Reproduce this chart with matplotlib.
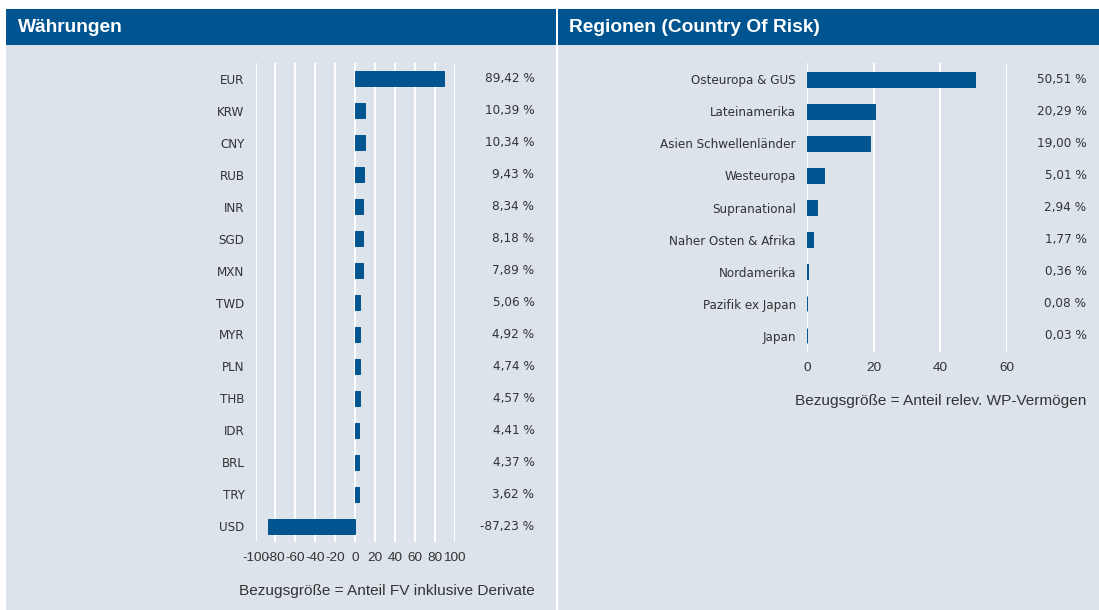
import matplotlib
matplotlib.use("Agg")
import matplotlib.pyplot as plt
from matplotlib import font_manager
from matplotlib.patches import Rectangle
import matplotlib.transforms as mtransforms

# ---------------- data ----------------
currencies = ["EUR", "KRW", "CNY", "RUB", "INR", "SGD", "MXN", "TWD", "MYR",
              "PLN", "THB", "IDR", "BRL", "TRY", "USD"]
currency_values = [89.42, 10.39, 10.34, 9.43, 8.34, 8.18, 7.89, 5.06, 4.92,
                   4.74, 4.57, 4.41, 4.37, 3.62, -87.23]
currency_ticks = [-100, -80, -60, -40, -20, 0, 20, 40, 60, 80, 100]

regions = ["Osteuropa & GUS", "Lateinamerika", "Asien Schwellenländer",
           "Westeuropa", "Supranational", "Naher Osten & Afrika",
           "Nordamerika", "Pazifik ex Japan", "Japan"]
region_values = [50.51, 20.29, 19.00, 5.01, 2.94, 1.77, 0.36, 0.08, 0.03]
region_ticks = [0, 20, 40, 60]

title_left = "Währungen"
title_right = "Regionen (Country Of Risk)"
note_left = "Bezugsgröße = Anteil FV inklusive Derivate"
note_right = "Bezugsgröße = Anteil relev. WP-Vermögen"

# ---------------- style ----------------
W, H = 1099, 610
BLUE = "#00548f"
PANEL = "#dce3eb"
TXT = "#333333"

REG = "Liberation Sans"
plt.rcParams["font.family"] = [REG, "DejaVu Sans"]

# look for a condensed face
cond_file = None
for f in font_manager.fontManager.ttflist:
    nm = f.name.lower()
    st = str(f.stretch).lower()
    if f.weight in (400, "normal", "regular") and f.style == "normal" and (
            "narrow" in nm or "condensed" in nm or st in ("condensed", "semi-condensed")):
        cond_file = f.fname
        break


def label_font(size):
    if cond_file is not None:
        return font_manager.FontProperties(fname=cond_file, size=size)
    return font_manager.FontProperties(family=[REG, "DejaVu Sans"], size=size * 0.92)


cat_font = label_font(9.5)
val_font = label_font(9.6)

fig = plt.figure(figsize=(W / 100, H / 100), dpi=100, facecolor="white")


def fx(px):
    return px / W


def fy(py):
    return 1 - py / H


# panels
for x0, x1, title in [(6, 556, title_left), (557.5, 1099, title_right)]:
    fig.patches.append(Rectangle((fx(x0), fy(610)), fx(x1 - x0), (610 - 45) / H,
                                 transform=fig.transFigure, facecolor=PANEL,
                                 edgecolor="none", zorder=-10))
    fig.patches.append(Rectangle((fx(x0), fy(45)), fx(x1 - x0), 36 / H,
                                 transform=fig.transFigure, facecolor=BLUE,
                                 edgecolor="none", zorder=-10))
    fig.text(fx(x0 + 11.5), fy(27.5), title, color="white", fontsize=13.8,
             fontweight="bold", va="center", ha="left", family=[REG, "DejaVu Sans"])


def make_axes(left_px, right_px, top_px, bottom_px):
    ax = fig.add_axes([fx(left_px), fy(bottom_px), fx(right_px - left_px),
                       (bottom_px - top_px) / H])
    ax.set_facecolor("none")
    for s in ax.spines.values():
        s.set_visible(False)
    ax.tick_params(axis="both", length=0)
    ax.grid(axis="x", color="white", linewidth=1.4)
    ax.grid(axis="y", visible=False)
    ax.set_axisbelow(True)
    return ax


def draw(ax, cats, vals, ticks, xlim, value_x_px, note, note_y_px):
    n = len(cats)
    y = list(range(n))
    ax.barh(y, vals, height=0.47, color=BLUE, edgecolor=BLUE, linewidth=0.7, zorder=3)
    ax.set_ylim(n - 0.5, -0.5)
    ax.set_xlim(*xlim)
    ax.set_yticks(y)
    ax.set_yticklabels(cats, color=TXT)
    for lab in ax.get_yticklabels():
        lab.set_fontproperties(cat_font)
    ax.set_xticks(ticks)
    ax.set_xticklabels([str(t) for t in ticks], fontsize=9.7, color=TXT)
    ax.tick_params(axis="y", pad=8)
    ax.tick_params(axis="x", pad=7)
    trans = mtransforms.blended_transform_factory(fig.transFigure, ax.transData)
    for yi, v in zip(y, vals):
        ax.text(fx(value_x_px), yi, f"{v:.2f} %".replace(".", ","), transform=trans,
                ha="right", va="center", color=TXT, fontproperties=val_font)
    fig.text(fx(value_x_px), fy(note_y_px), note, ha="right", va="center",
             fontsize=11.1, color=TXT)


axL = make_axes(255.5, 454.5, 63, 542)
draw(axL, currencies, currency_values, currency_ticks, (-100, 100), 534.5, note_left, 591)

axR = make_axes(807, 1007, 63, 352)
draw(axR, regions, region_values, region_ticks, (0, 60), 1086.5, note_right, 401)

fig.savefig("out.png", dpi=100, facecolor="white")
